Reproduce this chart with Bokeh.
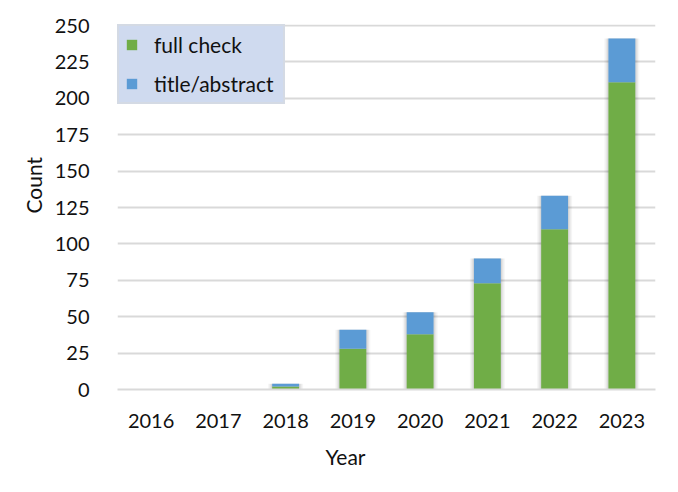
from bokeh.plotting import figure
from bokeh.models import ColumnDataSource, FactorRange, Range1d, FixedTicker, Legend, Title
from bokeh.embed import file_html
from bokeh.resources import INLINE

years = ["2016", "2017", "2018", "2019", "2020", "2021", "2022", "2023"]
full_check = [0, 0, 2, 28, 38, 73, 110, 211]
title_abstract = [0, 0, 2, 13, 15, 17, 23, 30]
y_ticks = [0, 25, 50, 75, 100, 125, 150, 175, 200, 225, 250]

FONT = "Lato"
GREEN = "#70ad47"
BLUE = "#5b9bd5"
TXT = "#111111"

totals = [a + b for a, b in zip(full_check, title_abstract)]
source = ColumnDataSource(dict(year=years, full=full_check, title=title_abstract, total=totals))

p = figure(
    width=670, height=484,
    x_range=FactorRange(factors=years, range_padding=0),
    y_range=Range1d(0, 250.7),
    output_backend="svg", toolbar_location=None,
    min_border_left=117, min_border_right=15, min_border_top=24, min_border_bottom=95,
)
p.outline_line_color = None
p.background_fill_color = "white"
p.border_fill_color = "white"

# soft shadow around bars
for w, a in [(0.52, 0.04), (0.48, 0.05), (0.44, 0.07)]:
    p.vbar(x="year", top="total", width=w, source=source, fill_color="#000000",
           fill_alpha=a, line_color=None)

r = p.vbar_stack(["full", "title"], x="year", width=0.4, source=source,
                 fill_color=[GREEN, BLUE], line_color=None)

legend = Legend(items=[("full check", [r[0]]), ("title/abstract", [r[1]])],
                location="top_left")
legend.background_fill_color = "#cfdaef"
legend.background_fill_alpha = 1.0
legend.border_line_color = "#d9d9d9"
legend.border_line_width = 2
legend.label_text_font = FONT
legend.label_text_font_size = "21px"
legend.label_text_color = TXT
legend.glyph_width = 13
legend.glyph_height = 13
legend.label_standoff = 16
legend.label_width = 123
legend.padding = 6
legend.spacing = 14
legend.margin = 0
p.add_layout(legend, "center")

p.ygrid.grid_line_color = "#d9d9d9"
p.ygrid.grid_line_width = 2
p.xgrid.grid_line_color = None

p.yaxis.ticker = FixedTicker(ticks=y_ticks)
p.yaxis.axis_line_color = None
p.yaxis.major_tick_line_color = None
p.yaxis.minor_tick_line_color = None
p.yaxis.major_label_standoff = 22
p.yaxis.major_label_text_font = FONT
p.yaxis.major_label_text_font_size = "20px"
p.yaxis.major_label_text_color = TXT

p.xaxis.axis_line_color = "#d9d9d9"
p.xaxis.axis_line_width = 2
p.xaxis.major_tick_line_color = None
p.xaxis.minor_tick_line_color = None
p.xaxis.major_label_standoff = 18
p.xaxis.major_label_text_font = FONT
p.xaxis.major_label_text_font_size = "20px"
p.xaxis.major_label_text_color = TXT

p.add_layout(Title(text="Year", align="left", offset=208, standoff=22,
                   text_font=FONT, text_font_size="21px", text_font_style="normal",
                   text_color=TXT), "below")
p.add_layout(Title(text="Count", align="left", offset=176, standoff=12,
                   text_font=FONT, text_font_size="21px", text_font_style="normal",
                   text_color=TXT), "left")

open("out.html", "w").write(file_html(p, INLINE))
